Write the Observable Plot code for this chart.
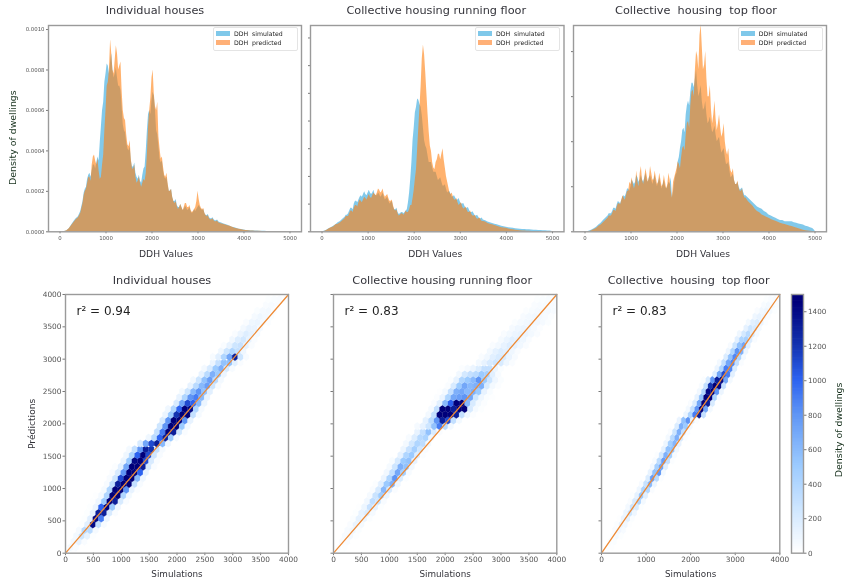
<!DOCTYPE html>
<html><head><meta charset="utf-8">
<script src="https://cdn.jsdelivr.net/npm/d3@7"></script>
<script src="https://cdn.jsdelivr.net/npm/@observablehq/plot@0.6"></script>
<style>
html,body{margin:0;padding:0;background:#fff}
#root{position:relative;width:848px;height:581px;overflow:hidden;filter:blur(0.45px)}
#root svg{position:absolute;background:transparent;max-width:none}
.legend{position:absolute;box-sizing:border-box;width:85px;height:24px;background:rgba(255,255,255,.85);border:1px solid #e4e4e4;border-radius:2px;font:6.2px "DejaVu Sans";color:#222;white-space:pre}
.legend div{position:absolute;left:2px;height:10px;line-height:10px}
.legend i{display:inline-block;width:14px;height:5px;margin-right:4px;vertical-align:0}
</style></head><body><div id="root"></div>
<script>
// Density of dwellings per 50-unit DDH bin (0..5000), in units of 1e-5
const ihSimulated=[0,0,.1,.5,1.5,3.2,5,6.5,7.5,10,
15,21,26,29,30,33,34,35,52,64,
78,82,84,80,78,76,72,62,50,44,
40,35,32,29,26,25,28,32,50,60,
65,67,50,42,34,30,26,23,20,17,
15,13,12,12,11,12,11,10,9.5,10,
12,12,10.5,9,8,7,6.5,6,5.5,5,
4.5,4,3.6,3.2,2.8,2.3,2,1.6,1.3,1.1,
.9,.7,.6,.5,.5,.4,.4,.3,.3,.3,
.2,.2,.2,.2,.2,.2,.1,.1,.1,.1,0];
const ihPredicted=[0,0,.1,.5,1.5,3,4.5,6,7,9,
14,20,24,27,33,38,33,30,27,38,
60,74,95,80,85,88,82,70,56,48,
42,36,31,27,25,24,24,25,38,60,
76,68,60,47,36,32,27,24,20,17,
14,12.5,12,12,12,14,12,10.5,10,12,
20,13,11,9,7.5,6.5,6,5.5,5,4.5,
4,3.7,3.3,3,2.7,2.2,1.8,1.5,1.2,1,
.8,.6,.5,.4,.4,.3,.3,.3,.2,.2,
.2,.2,.1,.1,.1,.1,.1,.1,.1,.1,0];
const runSimulated=[0,.4,1.2,2.2,3,4,5,6.5,7.5,9,
10.5,12,15,17,20,22,23,26,27,27,
28,28,28,27,26,27,26,25,24,22,
21,18,16,14,13,14,14,16,28,50,
75,90,95,90,75,62,55,50,46,43,
40,38,36,33,31,29,27,25.5,24.5,23,
21.5,20,18.5,17,15.5,14,13,11.5,10.5,9.5,
8.5,8,7,6.5,6,5.5,5,4.5,4,3.6,
3.3,3,2.7,2.5,2.2,2,1.9,1.7,1.6,1.5,
1.5,1.3,1.2,1.1,1,1,.8,.7,.6,.5,.2];
const runPredicted=[0,.3,1,2,3,3.5,5,5.5,6.5,8,
9.5,11,13,15,17,19,21,22,23,24,
25,25,26,27,28,30,29,27,26,24,
22,19,15,13,12,13,13,14,16,19,
30,45,75,105,135,115,85,62,50,45,
52,56,56,52,40,32,27,25,23,21,
20,18,17,15.5,14,12.5,11.5,10,9.5,8.5,
7.5,7,6,5.5,5,4.5,4,3.5,3,2.7,
2.5,2,1.7,1.4,1.2,1,.8,.6,.5,.4,
.4,.3,.3,.2,.2,.1,.1,.1,.1,.1,0];
const topSimulated=[0,0,.3,.8,1.3,2,3,3.8,5,6,
7,8,9,10.5,12,13,14,16,17,19,
20,22,22,24,23,23,24,23,24,23,
23,22,22,21,21,20,20,21,15,22,
26,33,40,46,52,58,62,66,68,65,
62,58,55,52,49,47,45,43,41,38,
36,33,30,27,24.5,22.5,21,20,19,17.5,
16,15,14,13,12,11,10.5,10,9,8.5,
7.5,7,6.5,6,5.5,5,5,4.5,4.5,4.5,
4.5,4,3.8,3.5,3.2,3,2.5,2.2,1.8,1.5,.5];
const topPredicted=[0,0,.1,.5,1,1.5,2.5,3,4,5,
6,7,8,9.5,11,12.5,14,15,16,18,
21,21,21,22,26,23,24,25,24,26,
23,24,22,23,21,22,21,23,15,24,
28,30,33,38,43,49,56,63,72,78,
87,82,74,68,60,54,52,50,48,46,
44,40,34,30,26,23,21,19.5,18,16.5,
15,13.5,12.5,11.5,10,9,8.5,7.5,7,6.5,
6,5.5,5,4.7,4.2,3.8,3.5,3.2,2.9,2.6,
2.3,2,1.7,1.3,1,.7,.5,.3,.2,.1,0];
// In-between readings at 525, 575, ... 3475 (same units)
const ihSimulatedMid=[19,22,28,27,33,31,37,44,60,74,83,78,88,76,81,72,70,53,49,41,42,32,34,27,28,24,31,40,58,58,69,60,48,36,35,27,27,20,21,15,16,12,13.5,10.5,12.5,10.5,12,9,11,11,13,11,11,8,8.5,6.5,7,5.5,5.8,4.6];
const ihPredictedMid=[18,21,27,25,37,35,36,26,33,50,72,80,88,78,92,80,84,60,55,43,45,31,33,24,27,22,26,29,52,66,80,62,64,41,37,28,29,20,21,15,15,11,13.5,10.5,14,12,13,9.5,11,15,16,11.5,11.5,8,8,6,6.5,5,5.3,4.2];
const runSimulatedMid=[12,13,17,16,22,21,25,25,29,26,30,27,30,26,28,25,28,23,25,20,22,16,17,12.5,14,13,15,21,38,66,86,96,92,84,66,60,50,50,43,43,37,39,33,34,28,29,25,26,23,24,20,20.5,17,17.5,14,14.5,11.5,12,9.5,10];
const runPredictedMid=[11,11,15,14,19,18,23,21,25,23,27,24,28,26,31,28,31,25,27,22,23,16,16,11.5,13,12,15,14,19,24,38,60,90,125,128,100,72,58,46,50,56,52,60,46,36,28,28,23,24,19,21,16.5,18,14,15,11.5,12,9,10,7.5];
const topSimulatedMid=[8,8,10.5,10,13.5,12.5,15.5,15.5,19,18,23,21,25,22,25,22,26,22,25,21,25,20,24,19,23,19,22,24,18,25,31,37,45,44,56,56,66,64,72,60,65,54,58,48,51,44,47,40,42,35,37,30,31,24,25.5,21,22,18.5,19.5,16];
const topPredictedMid=[7,7,9.5,9,12.5,12,16,14,18,22,24,19,27,20,29,21,28,22,29,23,27,21,26,20,25,19,26,18,22,26,31,28,37,36,48,46,62,60,80,72,92,72,80,60,65,48,58,45,52,42,48,36,37,27,28,21,22.5,18,19,15];

// Hexbin rows: [predicted y, first simulated x, cell counts at x, x+100, ...]
const ihRows=[[0,0,30,10],[89,50,60,30],[179,100,60,120,30],[268,150,60,250,120,15],[357,200,50,350,350,50],
[446,250,15,150,1400,300,40],[536,300,15,150,1400,900,100],[625,350,15,120,1300,1300,200,30],[714,400,15,100,1000,1500,500,80],
[804,450,10,80,500,1500,1300,200,30],[893,500,10,60,400,1500,1500,400,60],[982,650,50,400,1500,1500,800,120,20],
[1071,700,40,300,1300,1500,1500,300,40],[1161,750,40,250,1100,1500,1500,600,80],[1250,800,30,200,800,1500,1500,1000,120],
[1339,850,20,150,700,1500,1500,1300,200,30],[1429,1000,100,500,1400,1500,1100,200,30],[1518,1050,80,400,1000,1500,1100,250,40],
[1607,1100,60,300,800,1300,1200,300,50],[1696,1300,200,700,1100,1300,600,80],[1786,1450,80,350,1000,1300,500,60],
[1875,1600,300,900,1500,1300,250,30],[1964,1650,250,800,1500,1500,500,60],[2054,1700,200,800,1500,1500,800,120],
[2143,1750,100,500,1200,1500,1500,300,50],[2232,1800,80,400,1000,1500,1400,400,50],[2321,1950,200,700,1100,1000,600,100],
[2411,2000,120,400,800,900,600,120],[2500,2050,60,250,600,800,550,150],[2589,2200,120,350,600,750,250,40],
[2679,2250,60,250,550,750,350,60],[2768,2400,120,350,650,500,100],[2857,2450,60,200,500,650,200,40],
[2946,2600,100,300,550,550,150,30],[3036,2600,40,150,400,700,1300,250,40],[3125,2750,80,250,400,300,80],
[3214,2800,30,120,250,280,120,30],[3304,2950,70,170,220,120,30],[3393,3000,30,100,170,130,50],[3482,3150,60,120,110,50],
[3571,3200,30,80,100,60,20],[3661,3350,50,80,60,25],[3750,3400,25,50,60,30],[3839,3550,30,40,30],[3929,3600,15,25,30,20]];
const runRows=[[0,50,10,5],[89,100,20,15],[179,150,30,30],[268,200,40,60,15],[357,250,40,80,25],[446,300,30,110,50],[536,350,25,130,100,20],
[625,400,15,120,190,50],[714,450,10,90,280,120,15],[804,600,70,320,250,40],[893,650,50,270,480,90],[982,700,30,200,600,200,30],
[1071,750,20,150,500,650,80],[1161,900,100,400,800,180,20],[1250,950,70,300,700,450,40],[1339,1000,50,250,650,550,70],[1429,1050,35,200,500,550,120],
[1518,1200,130,400,500,170,20],[1607,1250,90,280,450,250,30],[1696,1300,60,220,400,330,60],[1786,1350,40,170,360,420,90],[1875,1500,120,300,550,200,30],
[1964,1500,50,120,250,550,900,350,60],[2054,1650,130,350,800,1300,1100,300,60],[2143,1700,60,300,1500,1500,1500,1300,300,80,20],
[2232,1750,50,300,1500,1500,1300,1500,1500,200,50,15],[2321,1800,30,150,600,1000,1500,1500,600,200,60,20],
[2411,1850,20,100,400,700,750,800,700,250,80,25,10],[2500,1900,10,60,300,650,700,600,650,500,120,35],
[2589,2050,30,200,500,700,600,650,650,200,60,20],[2679,2100,20,120,400,500,600,800,500,250,80,25],[2768,2250,70,220,300,350,500,450,150,40],
[2857,2300,20,50,100,180,300,300,100,25],[2946,2600,60,120,200,250,200,80,30],[3036,2650,30,70,150,200,200,100,40],[3125,2800,60,130,180,150,80,30],
[3214,2850,30,60,120,170,130,70,30],[3304,3000,50,100,150,130,80,30],[3393,3050,30,60,100,120,100,60,30],[3482,3200,50,80,100,80,50,20],
[3571,3250,25,50,70,80,70,50,25],[3661,3400,40,60,70,60,40,20],[3750,3450,20,35,50,55,50,40,20],[3839,3600,30,40,45,40,30],[3929,3650,15,25,35,40,40,35,25]];
const topRows=[[89,50,15,10],[179,100,25,25],[268,150,25,50,15],[357,200,30,70,40],[446,250,20,100,70,10],[536,300,10,100,140,20],
[625,450,90,240,80],[714,500,60,260,190,15],[804,550,30,200,400,60],[893,600,15,130,500,150],[982,750,80,420,380,30],[1071,800,40,280,600,100],
[1161,950,180,750,350,20],[1250,1000,120,550,800,60],[1339,1050,70,450,700,150],[1429,1100,40,330,750,300,20],[1518,1150,20,220,650,450,40],
[1607,1300,130,550,550,70],[1696,1350,90,450,620,120],[1786,1400,60,350,650,200,20],[1875,1450,30,260,650,320,30],[1964,1600,180,650,500,60],
[2054,1650,110,550,800,150,20],[2143,1800,100,400,900,1300,300],[2232,1850,60,300,800,1500,700,60],[2321,1900,30,180,700,1500,1300,200],
[2411,2050,120,550,1500,1500,400,30],[2500,2100,70,400,1400,1500,800,100],[2589,2150,40,300,1200,1500,1400,300],[2679,2200,20,200,800,1300,1400,700,60],
[2768,2450,150,700,1100,900,150],[2857,2500,100,400,900,850,180],[2946,2550,60,300,700,850,300,30],[3036,2700,180,550,850,400,60],[3125,2750,90,400,800,650,90],
[3214,2800,40,250,550,700,150],[3304,2950,150,400,450,180,30],[3393,3000,80,220,350,200,50],[3482,3150,130,250,200,60],[3571,3200,60,150,180,100,20],
[3661,3350,80,120,90,30],[3750,3400,30,70,90,50,15],[3839,3550,40,60,50,20],[3929,3600,15,30,40,30]];

const titles=["Individual houses","Collective housing running floor","Collective  housing  top floor"];
const r2=["r² = 0.94","r² = 0.83","r² = 0.83"];
const ddhTicks=[0,1000,2000,3000,4000,5000];
const scatterTicks=[0,500,1000,1500,2000,2500,3000,3500,4000];
const topScatterTicks=[0,1000,2000,3000,4000];
const cbarTicks=[0,200,400,600,800,1000,1200,1400];
const diag=[0,4000];
const legendItems=[["DDH  simulated","#7fc8ea"],["DDH  predicted","#ffb077"]];

const root=document.getElementById("root");
const font={fontFamily:"'DejaVu Sans'",background:"transparent",color:"#555",overflow:"visible"};
const dark="#33333a", green="#16301c";
const ser=(a,m)=>a.flatMap((v,i)=>{
  const x=i*50, out=[{x,v:v*1e-5}];
  if(x>=500&&x<3500) out.push({x:x+25,v:m[(x-500)/50]*1e-5});
  return out;});
const frameStroke={stroke:"#9a9a9a",strokeWidth:1.4};
const plain=d3.format("d");

function place(svg,left,top){svg.style.left=left+"px";svg.style.top=top+"px";root.appendChild(svg);}
const label=(t,o)=>Plot.text([t],{fontFamily:"'DejaVu Sans'",lineAnchor:"middle",...o});

function hist(rect,xDom,yDom,yTicks,sim,simMid,pred,predMid,title,tdx,ldx,showY){
  const [x0,x1,y0,y1]=rect, mL=46,mT=25,mB=30,mR=6;
  const p=Plot.plot({width:x1-x0+mL+mR,height:y1-y0+mT+mB,marginLeft:mL,marginRight:mR,marginTop:mT,marginBottom:mB,
    style:{...font,fontSize:"5.4px"},
    x:{domain:xDom},y:{domain:yDom},
    marks:[
      Plot.areaY(ser(sim,simMid),{x:"x",y:"v",curve:"linear",fill:"#2ea5dc",fillOpacity:.6}),
      Plot.areaY(ser(pred,predMid),{x:"x",y:"v",curve:"linear",fill:"#ff7f0e",fillOpacity:.6}),
      Plot.axisX({ticks:ddhTicks,tickSize:2,tickPadding:2,label:null,stroke:"#777",tickFormat:plain}),
      Plot.axisY({ticks:yTicks,tickSize:2,tickPadding:2,label:null,stroke:"#777",tickFormat:showY?d3.format(".4f"):()=>""}),
      Plot.frame(frameStroke),
      label(title,{frameAnchor:"top",dx:tdx,dy:-15,fontSize:11.3,fill:dark}),
      label("DDH Values",{frameAnchor:"bottom",dx:ldx,dy:22,fontSize:9.2,fill:dark}),
      showY?label("Density of dwellings",{frameAnchor:"left",rotate:-90,dx:-36,dy:9,fontSize:9.4,fill:green,textAnchor:"middle"}):null
    ]});
  place(p,x0-mL,y0-mT);
  const lg=document.createElement("div");lg.className="legend";
  lg.style.left=(x1-88)+"px";lg.style.top=(y0+2.5)+"px";
  legendItems.forEach(([t,c],i)=>{const d=document.createElement("div");d.style.top=(1+i*9)+"px";
    const s=document.createElement("i");s.style.background=c;d.appendChild(s);d.appendChild(document.createTextNode(t));lg.appendChild(d);});
  root.appendChild(lg);
}

const colorScale={type:"linear",domain:[0,200,500,800,1000,1200,1450],range:["#ffffff","#d8ebff","#9ccbff","#5f95f5","#2c62f0","#1333b0","#00007a"],clamp:true};

// origin: x position of the hexbin lattice in this panel
function cellsOf(rows,origin){return rows.flatMap(([y,x,...c])=>c.map((n,i)=>({x:origin+x+i*100,y,n})));}

function scatter(rect,rows,origin,title,tdx,r,xTicks,showY){
  const [x0,x1,y0,y1]=rect, mL=46,mT=25,mB=28,mR=6;
  // matplotlib hexagon: 100 units wide, 178.6/3 units per vertical step
  const w=(x1-x0)/4000*100/2, s=(y1-y0)/4000*178.6/6;
  const hex={draw(c){c.moveTo(0,-2*s);c.lineTo(w,-s);c.lineTo(w,s);c.lineTo(0,2*s);c.lineTo(-w,s);c.lineTo(-w,-s);c.closePath();}};
  const p=Plot.plot({width:x1-x0+mL+mR,height:y1-y0+mT+mB,marginLeft:mL,marginRight:mR,marginTop:mT,marginBottom:mB,
    style:{...font,fontSize:"7.4px"},
    x:{domain:[0,4000]},y:{domain:[0,4000]},color:colorScale,
    marks:[
      Plot.dot(cellsOf(rows,origin),{x:"x",y:"y",fill:"n",stroke:"n",strokeWidth:.25,symbol:hex,clip:true}),
      Plot.line(diag.map(d=>[d,d]),{stroke:"#ee8a35",strokeWidth:1.3}),
      Plot.axisX({ticks:xTicks,tickSize:2.5,tickPadding:1.5,label:null,stroke:"#777",tickFormat:plain}),
      Plot.axisY({ticks:scatterTicks,tickSize:2.5,tickPadding:1.5,label:null,stroke:"#777",tickFormat:showY?plain:()=>""}),
      Plot.frame(frameStroke),
      label(title,{frameAnchor:"top",dx:tdx,dy:-14,fontSize:11.3,fill:dark}),
      label("Simulations",{frameAnchor:"bottom",dy:20.5,fontSize:8.8,fill:dark}),
      label(r,{frameAnchor:"top-left",dx:11,dy:17,fontSize:12,fill:"#222",textAnchor:"start"}),
      showY?label("Prédictions",{frameAnchor:"left",rotate:-90,dx:-33,fontSize:9.2,fill:dark,textAnchor:"middle"}):null
    ]});
  place(p,x0-mL,y0-mT);
}

hist([48,301,24.7,231],[-250,5250],[0,.00102],[0,.0002,.0004,.0006,.0008,.001],ihSimulated,ihSimulatedMid,ihPredicted,ihPredictedMid,titles[0],-20,-9,true);
hist([309.5,563,24.7,231],[-250,5250],[0,.00149],[0,.0002,.0004,.0006,.0008,.001,.0012,.0014],runSimulated,runSimulatedMid,runPredicted,runPredictedMid,titles[1],-1,-2,false);
hist([572.7,825.7,24.7,231],[-250,5250],[0,.000916],[0,.0002,.0004,.0006,.0008],topSimulated,topSimulatedMid,topPredicted,topPredictedMid,titles[2],-4,3,false);

scatter([65,288,294,552.7],ihRows,40,titles[0],-15,r2[0],scatterTicks,true);
scatter([332.7,556,294,552.7],runRows,0,titles[1],-3,r2[1],scatterTicks,false);
scatter([600.7,779,294,552.7],topRows,90,titles[2],-2,r2[2],topScatterTicks,false);

// Colour bar
{
  const [x0,x1,y0,y1]=[790.7,802.7,294,552.7],mL=6,mR=46,mT=6,mB=28;
  const cb=Plot.plot({width:x1-x0+mL+mR,height:y1-y0+mT+mB,marginLeft:mL,marginRight:mR,marginTop:mT,marginBottom:mB,
    style:{...font,fontSize:"7.2px"},y:{domain:[0,1500]},color:colorScale,
    marks:[
      Plot.rect(d3.range(0,1500,10),{y1:d=>d,y2:d=>d+14,fill:d=>d,clip:true}),
      Plot.axisY({anchor:"right",ticks:cbarTicks,tickSize:2.5,tickPadding:2,label:null,stroke:"#777",tickFormat:plain}),
      Plot.frame(frameStroke),
      label("Density of dwellings",{frameAnchor:"right",rotate:-90,dx:35,dy:6,fontSize:9.4,fill:green,textAnchor:"middle"})
    ]});
  place(cb,x0-mL,y0-mT);
}
</script></body></html>
